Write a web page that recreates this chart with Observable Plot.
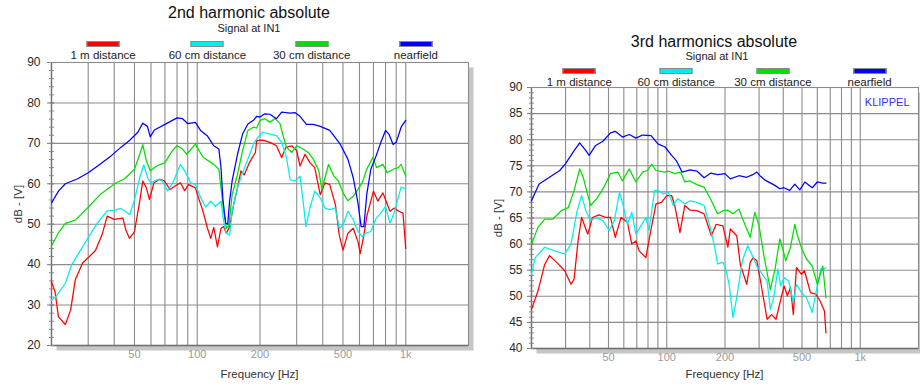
<!DOCTYPE html>
<html><head><meta charset="utf-8">
<script src="https://cdn.jsdelivr.net/npm/d3@7"></script>
<script src="https://cdn.jsdelivr.net/npm/@observablehq/plot@0.6"></script>
<style>
body{margin:0;background:#fff;font-family:"Liberation Sans",Arial,sans-serif;}
#wrap{position:relative;width:920px;height:388px;overflow:hidden;background:#fff;}
.svgbox{position:absolute;top:0;}
.t{position:absolute;white-space:nowrap;transform:translate(-50%,-50%);color:#222;line-height:1;}
.sw{position:absolute;width:31px;height:4px;border:1px solid #8a8a8a;transform:translate(-50%,-50%);}
.rot{transform:translate(-50%,-50%) rotate(-90deg);}
</style>
</head><body><div id="wrap"></div>
<script>
// ---- data ----
const seriesNames = ["1 m distance", "60 cm distance", "30 cm distance", "nearfield"];
const seriesColors = ["#ff0000", "#00eeee", "#00e000", "#0000ff"];
const xTickValues = [50, 100, 200, 500, 1000];
const xTickLabels = ["50", "100", "200", "500", "1k"];
const xGridValues = [20,30,40,50,60,70,80,90,100,200,300,400,500,600,700,800,900,1000];

const titles = ["2nd harmonic absolute", "3rd harmonics absolute"];
const subtitle = "Signal at IN1";

// 2nd harmonic [frequency Hz, dB]
const h2Red = [[20,35.8],[20.8,33.3],[21.6,27.1],[23.3,25.2],[24.7,28.75],[26,36.25],[28.2,40.4],[30.5,42.1],[32.5,43.5],[35,47.5],[37,52.0],[40,51.2],[44,51.5],[45.5,48.5],[47.3,46.5],[49,47.5],[50,48.2],[53,55.7],[54.8,60.7],[57,59],[59,56.1],[62,60.25],[66,61.1],[69.5,60.7],[74,58.6],[78,59.4],[83,60.25],[87,58.3],[91,59.8],[98,59],[102,56.1],[106,53.6],[112,49],[116,46.5],[120,49.2],[125,44.4],[130,49],[134,49.4],[138,47.75],[143,49.4],[150,55.25],[156,59],[162,63.2],[168,62.2],[178,65.25],[190,67.75],[193,70.7],[206,70.8],[223,70.25],[240,69.4],[254,66.5],[266,69],[284,69.4],[300,68.2],[311,64.4],[329,67.3],[347,65.25],[366,64],[389,57.3],[410,60.25],[432,59.8],[460,54.8],[480,47.3],[500,43.6],[528,47.75],[560,49],[590,45.7],[605,42.75],[630,47.3],[650,51.9],[680,55.7],[700,58.2],[735,55.7],[777,57.75],[805,55.7],[840,53.2],[880,54],[925,53.2],[970,52.75],[1000,44]];
const h2Cyan = [[20,31.25],[21,32.1],[23.3,35.4],[25,40],[30,46.7],[33.3,50.4],[37,53.3],[40,53.4],[43,53.9],[47.5,52.4],[50,56],[53,61.5],[55.4,64.7],[58,61.3],[60,60.25],[65,61.1],[68,60.7],[72,58.2],[77,60.7],[83,64.8],[88,62.75],[93,60.25],[98,59.8],[104,56.5],[110,54.2],[116,55.7],[122,54.4],[130,55.7],[134,50.7],[138,47.75],[143,47.3],[147,53.2],[156,59],[165,62.75],[175,66.1],[186,69.8],[193,71.1],[206,72.75],[223,72.3],[240,71.9],[254,70.25],[268,66.5],[279,61],[295,60.7],[311,61.9],[322,55.7],[332,49.4],[347,54],[366,58.2],[389,56.5],[410,54],[432,53.6],[460,54],[480,49],[500,49.8],[528,53.2],[560,51.1],[590,48.2],[620,46.9],[640,47.75],[680,48.2],[721,51.5],[760,52.75],[800,54.4],[840,50.25],[880,52.75],[920,56.5],[950,59.2],[1000,58.8]];
const h2Green = [[20,44.6],[21.6,47.9],[23.3,50.2],[26,51],[30,54.2],[34.5,57.5],[38.6,59.3],[40,60],[45,61.3],[50,63.6],[53,67.3],[54.8,69.7],[57,65.7],[59.5,63.2],[64,64.4],[70,65.25],[76,68.2],[80,69.4],[85,68.6],[89,67.3],[98,69.8],[102,68.2],[107,66.5],[120,64.8],[127,63.6],[130,59],[134,53.2],[138,49],[142,49.8],[147,57.3],[156,62.3],[165,68.2],[175,73.2],[186,74],[193,73.8],[200,75.7],[211,76.1],[223,75.25],[236,76.1],[249,75],[258,71.9],[268,69],[284,67.75],[300,69.4],[322,68.6],[341,67.75],[360,66.1],[383,63.2],[396,58.6],[410,61.5],[426,64.8],[452,61.9],[476,60.7],[500,57.75],[528,55.8],[560,56.9],[590,58.6],[620,60.4],[650,63.6],[695,66.5],[725,64],[777,64.8],[815,62.75],[870,63.6],[920,64],[950,64.8],[1000,61.9]];
const h2Blue = [[20,55.25],[21.6,58.2],[23.3,60],[26.7,61.25],[30,62.75],[33.3,64.4],[38.6,66.9],[43,69],[47.3,70.7],[51.9,72.75],[54.8,75],[57.7,74.2],[59.5,71.6],[62.3,73.3],[70,74.7],[80,76.3],[85,76.1],[90,74.9],[98,75.2],[103.7,73.2],[111.6,71.9],[120,69.4],[127,68.6],[130,64],[133,55.7],[137,50.25],[140,50],[143,55.7],[147,60.7],[156,67.3],[165,72.3],[175,74.8],[186,75.7],[193,76.7],[200,76.5],[211,77.3],[223,77.2],[240,76.1],[254,77.75],[279,77.5],[295,77.6],[311,76.7],[334,74.7],[360,74.7],[389,74.2],[432,73.2],[485,69.8],[528,66.1],[560,61.5],[590,55.25],[611,49.4],[630,49.4],[650,57.3],[680,63.6],[721,66.9],[760,70.25],[800,73.2],[830,72.3],[870,69.7],[900,70.25],[950,74],[1000,75.7]];

// 3rd harmonics [frequency Hz, dB]
const h3Red = [[20,47.5],[21.6,51],[23.4,56.1],[24.8,57.8],[27,56.5],[29.7,54.9],[32,52.3],[33.2,53.3],[34.8,60.6],[36.3,65.1],[39.1,61.9],[41.3,65.1],[44.6,65.6],[48.6,65.1],[51.2,65.1],[54.2,61.3],[58,65.1],[62.6,64.2],[66,60],[69.3,60.6],[72,58.7],[78,57.4],[83,62.9],[88,67.7],[94,68],[100,69.3],[106,69.3],[110,67.4],[117,62.2],[124,67.4],[132,66.5],[143,66.4],[156,65.8],[170,61.6],[180,63.8],[195,63.5],[207,59.4],[213,62.9],[230,61.6],[240,56.1],[259,52.3],[270,56.5],[280,57.4],[292,56.8],[303,53.6],[330,45.6],[348,46.5],[367,45.6],[390,49.7],[404,52],[420,50.1],[436,51.7],[451,46.5],[468,55.5],[497,54.2],[515,54.9],[553,50.7],[590,50.4],[620,49.1],[653,47.2],[665,43]];
const h3Cyan = [[20,54.2],[20.9,57.4],[23.4,59.4],[26.4,58.7],[29.7,58.1],[32,60],[34.3,66.1],[36.3,69.3],[38.2,66.4],[40.4,64.5],[42.9,65.1],[46.8,64.5],[50.4,62.6],[53.6,64.5],[57,69.9],[59,68],[62.6,63.8],[66,66.1],[69.3,61.9],[73.5,63.5],[78,65.1],[81,62.6],[86.5,70.3],[90,70.3],[96,69.6],[102,69.9],[108,67.4],[114,68.7],[124,67.7],[132,68.3],[143,68],[156,67.4],[166,63.8],[177,59.4],[183,56.2],[195,56.5],[201,55.5],[210,52.3],[220,45.9],[230,49.8],[246,56.8],[262,59.7],[280,57.4],[292,55.8],[303,54.9],[330,52.9],[343,47.5],[357,49.7],[375,55.2],[388,52],[404,53.6],[427,52.9],[451,48.8],[468,52.3],[497,50.7],[528,49.7],[565,46.9],[590,50.7],[625,55.2],[653,55.2],[665,55.5]];
const h3Green = [[20,60],[21.6,63.2],[23.4,64.8],[25.8,64.8],[28.5,66.4],[31,67],[33.2,70.3],[35.5,74.4],[37,72.8],[40.4,67.4],[43.7,68.8],[47.5,71],[51.2,73.5],[55.8,73.8],[59,72.1],[64,74.4],[69.3,71.9],[75,73.8],[79.5,74.1],[83.5,75.3],[88,74.1],[97,73.8],[102,74],[110,73.5],[118,73.8],[124,71.9],[132,72.1],[143,71.4],[156,70.9],[170,68.3],[183,65.8],[195,66.4],[207,66.5],[220,65.8],[236,66.7],[253,63.8],[270,61.3],[285,66.1],[300,63.5],[319,57.4],[343,51.3],[364,55.5],[384,61],[400,58.7],[412,56.8],[436,59.4],[459,63.8],[474,61.6],[500,59],[528,57.1],[565,55.8],[600,52.3],[640,55.8],[665,49.7]];
const h3Blue = [[20,68.3],[20.9,69.9],[21.9,71.5],[24.1,72.5],[28,74.1],[30,75.4],[33.2,77.9],[35.5,79.4],[38.2,77.9],[39.7,77],[42.9,78.9],[46.8,79.7],[51.2,81.3],[54.2,81.6],[59,80.5],[64,81],[69.3,80.3],[75,80.9],[83,80.8],[90,79.2],[98,78.6],[106,77],[112,76],[120,73.8],[132,74.2],[143,74],[156,72.7],[169,73.6],[183,73.3],[200,73.5],[213,72.5],[236,73.1],[259,72.8],[278,73.3],[292,73.8],[303,73.1],[324,72.2],[364,71.2],[384,70.6],[403,70.8],[432,70.3],[459,71.5],[487,70.4],[517,71.9],[565,70.8],[600,71.9],[640,71.7],[665,71.7]];

// ---- drawing ----
const FONT = "'Liberation Sans', Arial, sans-serif";
const wrap = document.getElementById("wrap");

function addText(txt, x, y, size, color, extraClass) {
  const d = document.createElement("div");
  d.className = "t" + (extraClass ? " " + extraClass : "");
  d.textContent = txt;
  d.style.left = x + "px"; d.style.top = y + "px";
  d.style.fontSize = size + "px"; d.style.color = color;
  wrap.appendChild(d);
}

function panel(cfg) {
  const rows = [];
  cfg.series.forEach((vals, i) => vals.forEach(([f, v]) => rows.push({f, v, name: seriesNames[i]})));
  const L = cfg.left + cfg.ml, R = cfg.left + cfg.width - cfg.mr;
  const svg = Plot.plot({
    width: cfg.width, height: 388,
    marginLeft: cfg.ml, marginRight: cfg.mr, marginTop: cfg.mt, marginBottom: cfg.mb,
    style: {background: "transparent", fontFamily: FONT, overflow: "visible"},
    x: {type: "log", domain: [20, 2000], axis: null},
    y: {domain: cfg.yDomain},
    color: {domain: seriesNames, range: seriesColors},
    marks: [
      Plot.frame({fill: "#c6c6c6", dx: 5, dy: 5}),
      Plot.frame({fill: "white"}),
      Plot.gridX(xGridValues, {stroke: "#8c8c8c", strokeOpacity: 1, strokeWidth: 1.1}),
      Plot.gridY(cfg.yMajor, {stroke: "#8c8c8c", strokeOpacity: 1, strokeWidth: 1.1}),
      Plot.frame({stroke: "#8c8c8c", strokeWidth: 1.1}),
      Plot.ruleY([cfg.yDomain[0]], {stroke: "#6e6e6e", strokeWidth: 1.3}),
      Plot.ruleX([20], {stroke: "#6e6e6e", strokeWidth: 1.3}),
      Plot.text(xTickValues, {x: d => d, text: (d, i) => xTickLabels[i], frameAnchor: "bottom", dy: 12.5,
        fill: "#9b9b9b", fontSize: 11, fontFamily: FONT}),
      Plot.axisY(cfg.yMajor, {tickSize: 0, tickPadding: cfg.labelPad, fontSize: 12, fill: "#2a2a2a", label: null}),
      Plot.axisY(cfg.yMajor, {tickSize: 7, dx: 3, stroke: "#7a7a7a", tickFormat: () => "", label: null}),
      Plot.axisY(cfg.yMinor, {tickSize: 5, dx: 3, stroke: "#8a8a8a", tickFormat: () => "", label: null}),
      ...(cfg.brand ? [Plot.text([cfg.brand], {frameAnchor: "top-right", dx: -9, dy: 11, fill: "#3030f0", fontSize: 11, fontFamily: FONT})] : []),
      Plot.line(rows, {x: "f", y: "v", z: "name", stroke: "name", strokeWidth: 1.25})
    ]
  });
  const box = document.createElement("div");
  box.className = "svgbox";
  box.style.left = cfg.left + "px";
  box.appendChild(svg);
  wrap.appendChild(box);

  // titles
  addText(cfg.title, cfg.titleX, cfg.titleY, 16, "#111");
  addText(subtitle, cfg.subX, cfg.titleY + 14.5, 11, "#222");
  // legend
  const colW = (R - L) / seriesNames.length;
  seriesNames.forEach((n, i) => {
    const cx = L + (i + 0.5) * colW;
    const s = document.createElement("div");
    s.className = "sw";
    s.style.left = cx + "px"; s.style.top = cfg.swY + "px"; s.style.background = seriesColors[i];
    wrap.appendChild(s);
    addText(n, cx, cfg.swY + 11.8, 11.5, "#222");
  });
  // axis labels
  addText("dB - [V]", cfg.yLabX, cfg.mt + (388 - cfg.mt - cfg.mb) / 2, 11.5, "#333", "rot");
  addText("Frequency [Hz]", (L + R) / 2, 375, 11.5, "#333");
}

panel({
  left: 0, width: 480, ml: 51, mr: 12, mt: 62, mb: 43,
  yDomain: [20, 90], yMajor: d3.range(20, 91, 10), yMinor: d3.range(20, 91, 2), labelPad: 11,
  series: [h2Red, h2Cyan, h2Green, h2Blue],
  title: titles[0], titleX: 249, subX: 249, titleY: 13, swY: 44.3, yLabX: 19
});
panel({
  left: 460, width: 460, ml: 71, mr: 2, mt: 87, mb: 40,
  yDomain: [40, 90], yMajor: d3.range(40, 91, 5), yMinor: d3.range(40, 91, 1), labelPad: 9,
  series: [h3Red, h3Cyan, h3Green, h3Blue],
  title: titles[1], titleX: 714, subX: 717, titleY: 41.7, swY: 70.7, yLabX: 499,
  brand: "KLIPPEL"
});
</script>
</body></html>
